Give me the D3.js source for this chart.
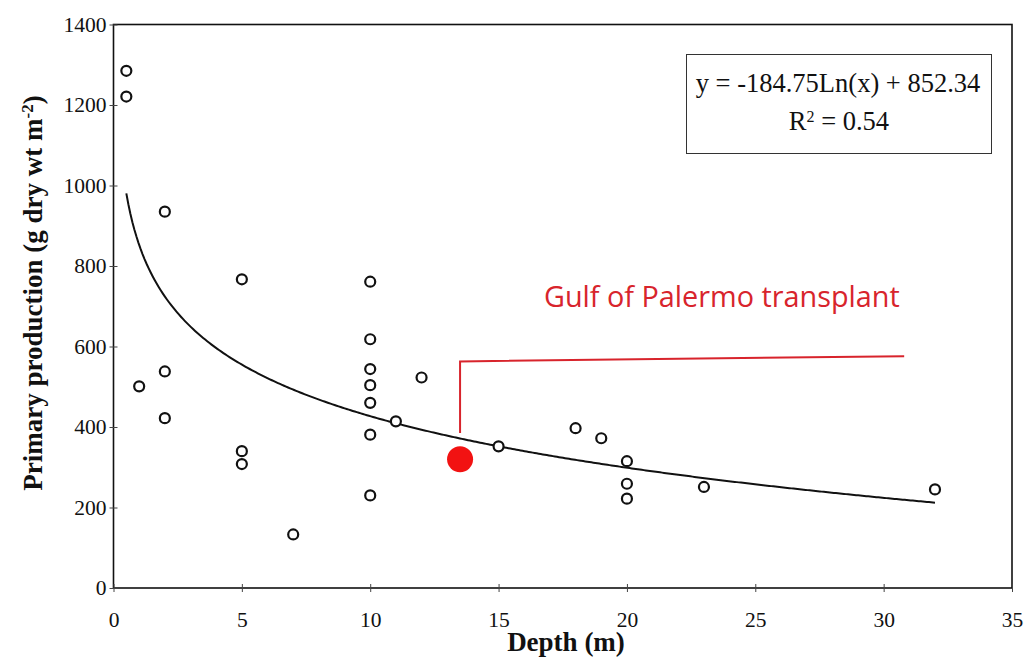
<!DOCTYPE html>
<html>
<head>
<meta charset="utf-8">
<script src="https://cdn.jsdelivr.net/npm/d3@7"></script>
<style>
  html, body { margin: 0; padding: 0; background: #fff; }
  svg { display: block; }
</style>
</head>
<body>
<svg id="chart" width="1025" height="658"></svg>
<script>
// Sampled stations: depth (m) and primary production (g dry wt m^-2)
const depth = [0.5, 0.5, 1, 2, 2, 2, 5, 5, 5, 7, 10, 10, 10, 10, 10, 10, 10, 11, 12, 15, 18, 19, 20, 20, 20, 23, 32];
const production = [1285, 1221, 501, 935, 538, 422, 767, 340, 308, 133, 761, 618, 544, 504, 460, 381, 230, 414, 523, 352, 397, 372, 315, 259, 222, 251, 245];

// Transplant site
const transplantDepth = [13.5];
const transplantProduction = [320];
const transplantLabel = "Gulf of Palermo transplant";

// Logarithmic fit y = a*ln(x) + b
const fitA = -184.75;
const fitB = 852.34;
const fitRange = [0.5, 32];
const fitR2 = "0.54";

// Axis ticks
const xTicks = [0, 5, 10, 15, 20, 25, 30, 35];
const yTicks = [0, 200, 400, 600, 800, 1000, 1200, 1400];

const svg = d3.select("#chart");
const plotLeft = 113.5, plotRight = 1012, plotTop = 24.5, plotBottom = 588;

const x = d3.scaleLinear().domain([0, 35]).range([plotLeft, plotRight]);
const y = d3.scaleLinear().domain([0, 1400]).range([plotBottom, plotTop]);

const serif = "'Liberation Serif', 'Times New Roman', serif";

// Plot frame
svg.append("rect")
  .attr("x", plotLeft).attr("y", plotTop)
  .attr("width", plotRight - plotLeft).attr("height", plotBottom - plotTop)
  .attr("fill", "none").attr("stroke", "#111").attr("stroke-width", 1.6);

// Y axis
const yAxis = svg.append("g")
  .attr("transform", `translate(${plotLeft},0)`)
  .call(d3.axisLeft(y).tickValues(yTicks).tickSize(4).tickPadding(3).tickFormat(d3.format("d")));
yAxis.select(".domain").remove();
yAxis.selectAll(".tick line").attr("x1", -4).attr("x2", 4).attr("stroke", "#444");
yAxis.selectAll(".tick text")
  .attr("font-family", serif).attr("font-size", 21.5).attr("fill", "#111");

// X axis
const xAxis = svg.append("g")
  .attr("transform", `translate(0,${plotBottom})`)
  .call(d3.axisBottom(x).tickValues(xTicks).tickSize(4).tickFormat(d3.format("d")));
xAxis.select(".domain").remove();
xAxis.selectAll(".tick line").attr("y1", -4).attr("y2", 4).attr("stroke", "#444");
xAxis.selectAll(".tick text")
  .attr("y", 24)
  .attr("font-family", serif).attr("font-size", 21.5).attr("fill", "#111");

// Axis titles
svg.append("text")
  .attr("transform", `translate(42,293) rotate(-90)`)
  .attr("text-anchor", "middle")
  .attr("font-family", serif).attr("font-size", 27).attr("font-weight", "bold").attr("fill", "#111")
  .call(t => {
    t.append("tspan").text("Primary production (g dry wt m");
    t.append("tspan").attr("baseline-shift", "super").attr("font-size", 17).text("-2");
    t.append("tspan").attr("baseline-shift", "0").text(")");
  });

svg.append("text")
  .attr("x", 566).attr("y", 651)
  .attr("text-anchor", "middle")
  .attr("font-family", serif).attr("font-size", 27).attr("font-weight", "bold").attr("fill", "#111")
  .text("Depth (m)");

// Fitted logarithmic curve
const fitPoints = d3.range(0, 401).map(i => {
  const d = fitRange[0] + (fitRange[1] - fitRange[0]) * i / 400;
  return [d, fitA * Math.log(d) + fitB];
});
svg.append("path")
  .datum(fitPoints)
  .attr("fill", "none").attr("stroke", "#111").attr("stroke-width", 2)
  .attr("d", d3.line().x(d => x(d[0])).y(d => y(d[1])));

// Observations
svg.append("g").selectAll("circle")
  .data(depth.map((d, i) => [d, production[i]]))
  .join("circle")
  .attr("cx", d => x(d[0])).attr("cy", d => y(d[1]))
  .attr("r", 5)
  .attr("fill", "#fff").attr("stroke", "#111").attr("stroke-width", 2.2);

// Leader line for the transplant annotation
const leader = [[transplantDepth[0], 385], [transplantDepth[0], 563], [30.8, 576]];
svg.append("path")
  .attr("fill", "none").attr("stroke", "#d8242c").attr("stroke-width", 2)
  .attr("d", d3.line().x(d => x(d[0])).y(d => y(d[1]))(leader));

// Transplant site marker
svg.append("g").selectAll("circle")
  .data(transplantDepth.map((d, i) => [d, transplantProduction[i]]))
  .join("circle")
  .attr("cx", d => x(d[0])).attr("cy", d => y(d[1]))
  .attr("r", 13)
  .attr("fill", "#f21212");

svg.append("text")
  .attr("x", 544).attr("y", 307)
  .attr("font-family", "'Open Sans', 'Noto Sans', sans-serif").attr("font-size", 28.8)
  .attr("fill", "#d8242c")
  .text(transplantLabel);

// Regression equation box
svg.append("rect")
  .attr("x", 686.5).attr("y", 54.5).attr("width", 305).attr("height", 99)
  .attr("fill", "#fff").attr("stroke", "#333").attr("stroke-width", 1);

svg.append("text")
  .attr("x", 838).attr("y", 92)
  .attr("text-anchor", "middle")
  .attr("font-family", serif).attr("font-size", 26.5).attr("fill", "#111")
  .text(`y = ${fitA}Ln(x) + ${fitB}`);

svg.append("text")
  .attr("x", 839).attr("y", 130)
  .attr("text-anchor", "middle")
  .attr("font-family", serif).attr("font-size", 26.5).attr("fill", "#111")
  .call(t => {
    t.append("tspan").text("R");
    t.append("tspan").attr("baseline-shift", "super").attr("font-size", 16).text("2");
    t.append("tspan").attr("baseline-shift", "0").text(" = " + fitR2);
  });
</script>
</body>
</html>
